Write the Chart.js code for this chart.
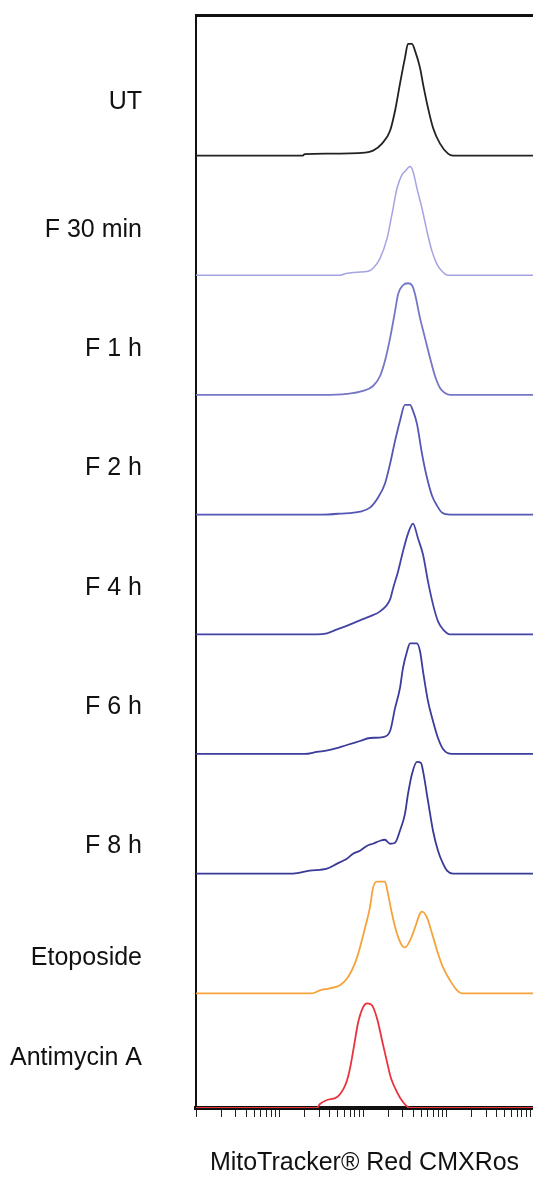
<!DOCTYPE html>
<html>
<head>
<meta charset="utf-8">
<script src="https://cdn.jsdelivr.net/npm/chart.js@4/dist/chart.umd.min.js"></script>
<style>
  html, body { margin: 0; padding: 0; background: #fff; }
  #wrap { width: 533px; height: 1180px; }
</style>
</head>
<body>
<div id="wrap"><canvas id="histo" width="533" height="1180"></canvas></div>
<script>
// stacked flow histograms, MitoTracker Red CMXRos intensity (log x) vs events
const NAMES = ['UT', 'F 30 min', 'F 1 h', 'F 2 h', 'F 4 h', 'F 6 h', 'F 8 h', 'Etoposide', 'Antimycin A'];

// [intensity, events]
const UT = [[1,0],[19,0],[20,1.5],[37,2],[106,3],[132,5],[169,12],[211,25],[242,45],[277,72],[318,98],[346,112],[386,112],[420,105],[482,88],[523,72],[600,48],[689,28],[836,12],[1042,2],[1196,0],[12000,0]];
const F30 = [[1,0],[53,0],[61,1.5],[85,3],[115,4],[132,7],[160,17],[194,37],[222,61],[255,87],[293,101],[318,104],[366,109],[397,104],[443,87],[509,67],[584,44],[671,24],[770,11],[908,3],[1042,0],[12000,0]];
const F1H = [[1,0],[33,0],[64,1],[100,4],[132,9],[160,19],[183,34],[211,57],[242,84],[263,101],[301,110],[346,112],[386,110],[420,101],[482,77],[553,57],[635,37],[728,19],[836,7],[960,2],[1101,0],[12000,0]];
const F2H = [[1,0],[32,0],[53,1],[92,3],[121,7],[151,17],[183,31],[211,51],[242,74],[277,94],[318,110],[366,110],[397,104],[443,91],[509,61],[584,37],[671,19],[770,9],[883,2],[1101,0],[12000,0]];
const F4H = [[1,0],[28,0],[37,1],[49,5],[66,9],[92,14],[121,18],[160,23],[211,35],[229,46],[263,63],[301,83],[346,101],[397,111],[456,96],[523,80],[600,53],[689,30],[791,13],[908,5],[1101,0],[12000,0]];
const F6H = [[1,0],[20,0],[28,2],[40,4],[64,9],[92,13],[121,16],[174,17],[211,23],[242,46],[277,66],[301,86],[337,103],[366,111],[443,111],[482,103],[523,83],[600,53],[689,33],[791,16],[908,5],[1164,0],[12000,0]];
const F8H = [[1,0],[14.5,0],[23,3],[37,5],[49,10],[58,13],[64,15],[76,20],[92,23],[112,28],[132,30],[160,33],[183,34],[211,30],[242,31],[277,43],[318,60],[346,80],[386,100],[443,112],[495,111],[523,103],[600,73],[689,43],[791,23],[908,10],[1014,3],[1196,0],[12000,0]];
const ETOP = [[1,0],[24.5,0],[30.5,3],[40,5],[53,8],[66,16],[80,30],[92,46],[106,66],[121,86],[132,106],[147,112],[183,112],[199,100],[222,80],[255,60],[293,48],[318,46],[366,53],[420,66],[482,80],[509,82],[584,76],[671,60],[770,43],[908,26],[1101,13],[1336,3],[1533,0],[12000,0]];
const ANTI = [[1,0],[28,0],[30.5,4],[37,8],[49,11],[59,20],[64,27],[70,40],[78,62],[87,85],[100,101],[112,105],[128,103],[147,90],[169,68],[194,46],[216,30],[255,16],[301,6],[366,0],[12000,0]];

const SERIES = [UT, F30, F1H, F2H, F4H, F6H, F8H, ETOP, ANTI];
const OFFSETS = [955, 835, 715, 595, 475, 355, 235, 115, 0];
const LABEL_Y = [1009, 880, 761, 642, 521, 402, 263, 150, 50];
const COLORS = ['#222222', '#a4a4e2', '#7676c6', '#5656b4', '#4444a4', '#3c3c9c', '#393996', '#f5a33a', '#e8323c'];

const DECADES = [1, 10, 100, 1000];
const X_TICKS = [];
DECADES.forEach(d => { for (let m = 1; m < 10; m++) X_TICKS.push(d * m); });
X_TICKS.push(10000);

const FONT = 'Liberation Sans, Arial, Helvetica, sans-serif';

const datasets = SERIES.map((s, i) => ({
  label: NAMES[i],
  data: s.map(([x, c]) => ({ x, y: c + OFFSETS[i] })),
  borderColor: COLORS[i],
  borderWidth: i === 1 ? 1.5 : 1.8,
  pointRadius: 0,
  fill: false,
  cubicInterpolationMode: 'monotone',
}));

new Chart(document.getElementById('histo'), {
  type: 'line',
  data: { datasets },
  options: {
    responsive: false,
    animation: false,
    layout: { padding: { top: 15, left: 0, right: 0, bottom: 0 } },
    plugins: { legend: { display: false }, tooltip: { enabled: false } },
    scales: {
      x: {
        type: 'logarithmic',
        min: 1,
        max: 10860,
        afterBuildTicks: s => { s.ticks = X_TICKS.map(v => ({ value: v })); },
        afterFit: s => { s.height = 72; },
        ticks: { display: false },
        grid: { drawOnChartArea: false, drawTicks: true, tickLength: 9, color: '#222', lineWidth: 1 },
        border: { color: '#111', width: 4 },
        title: {
          display: true,
          text: 'MitoTracker® Red CMXRos',
          color: '#111',
          font: { family: FONT, size: 25 },
          padding: { top: 31, bottom: 2 },
        },
      },
      x2: {
        type: 'linear',
        position: 'top',
        grid: { display: false },
        ticks: { display: false },
        border: { color: '#111', width: 3 },
        afterFit: s => { s.height = 0; },
      },
      y: {
        min: 0,
        max: 1096,
        afterBuildTicks: s => { s.ticks = LABEL_Y.map(v => ({ value: v })); },
        afterFit: s => { s.width = 196; s.paddingTop = 0; s.paddingBottom = 0; },
        grid: { display: false },
        border: { color: '#111', width: 2 },
        ticks: {
          autoSkip: false,
          padding: 46,
          color: '#111',
          font: { family: FONT, size: 25 },
          callback: (v, i) => NAMES[i],
        },
      },
    },
  },
});
</script>
</body>
</html>
